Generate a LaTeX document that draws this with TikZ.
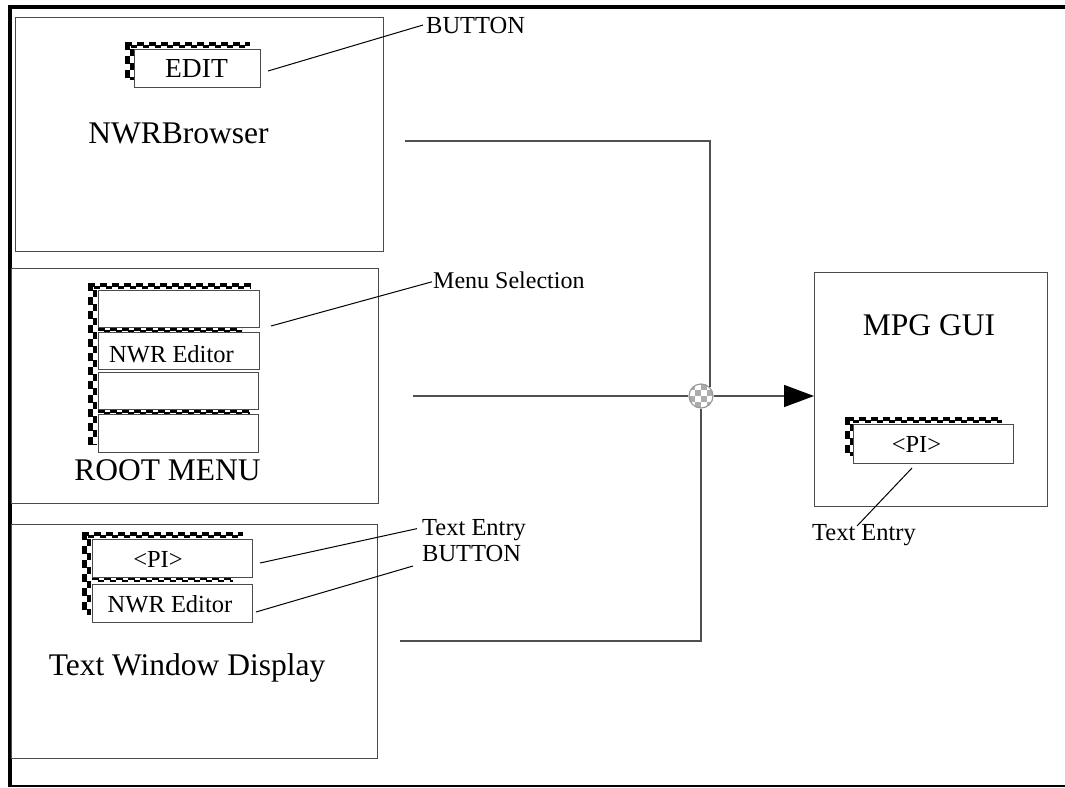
\documentclass[tikz,border=0pt]{standalone}
\usepackage{fontspec}
\setmainfont{Liberation Serif}
\usetikzlibrary{arrows.meta,calc}
\definecolor{boxc}{RGB}{75,75,75}
\definecolor{linec}{RGB}{80,80,80}
\newcommand\chkH[3]{%
  \draw[black, line width=3.5pt, dash pattern=on 7pt off 5pt] (#1,{#3+1.75}) -- (#2,{#3+1.75});
  \draw[black, line width=2.5pt, dash pattern=on 6pt off 6pt, dash phase=6pt] (#1,{#3+4.5}) -- (#2,{#3+4.5});}
\newcommand\chkV[3]{%
  \draw[black, line width=4.5pt, dash pattern=on 8pt off 6pt] ({#1+2.25},#2) -- ({#1+2.25},#3);
  \draw[black, line width=4pt, dash pattern=on 7pt off 7pt, dash phase=7pt] ({#1+6.5},#2) -- ({#1+6.5},#3);}
\begin{document}
\begin{tikzpicture}[x=1pt,y=-1pt,
  winbox/.style={draw=boxc, line width=1.4pt, rectangle, inner sep=0pt, anchor=north west},
  btnbox/.style={draw=boxc, line width=1.3pt, fill=white, rectangle, inner sep=0pt, anchor=north west},
  big/.style={font=\fontsize{31.5}{36}\selectfont, inner sep=0pt, anchor=base},
  small/.style={font=\fontsize{24.5}{28}\selectfont, inner sep=0pt, anchor=base},
  lbl/.style={font=\fontsize{24.5}{28}\selectfont, inner sep=0pt, anchor=base west},
  callout/.style={draw=black, line width=1pt},
  conn/.style={draw=linec, line width=1.4pt}]
\useasboundingbox (0,0) rectangle (1065,787);
\fill[white] (0,0) rectangle (1065,787);
% outer frame
\draw[line width=4pt, line join=miter] (10,787) -- (10,7) -- (1065,7);
\draw[line width=2pt] (10,786) -- (1065,786);
% windows
\node[winbox, minimum width=368pt, minimum height=234pt] (nwb) at (15,17) {};
\node[winbox, minimum width=367pt, minimum height=235pt] (rm) at (11,268) {};
\node[winbox, minimum width=366pt, minimum height=234pt] (tw) at (11,524) {};
\node[winbox, minimum width=233pt, minimum height=234pt] (mpg) at (814,272) {};
% checkered shadows
\chkH{125}{250}{42}
\chkV{125}{42}{80}
\chkH{88}{251}{283}
\chkH{98}{242}{327}
\chkH{98}{250}{409}
\chkV{88}{283}{445}
\chkH{82}{243}{532}
\chkH{92}{233}{576.5}
\chkV{82}{532}{615}
\chkH{847}{1002}{417}
\chkV{845}{417}{456}
% buttons
\node[btnbox, minimum width=126pt, minimum height=38pt] (edit) at (134,49) {};
\node[btnbox, minimum width=161pt, minimum height=37pt] (m1) at (98,290) {};
\node[btnbox, minimum width=161pt, minimum height=37pt] (m2) at (98,332) {};
\node[btnbox, minimum width=160pt, minimum height=37pt] (m3) at (98,372) {};
\node[btnbox, minimum width=160pt, minimum height=38pt] (m4) at (98,414) {};
\node[btnbox, minimum width=160pt, minimum height=38pt] (twpi) at (92,539) {};
\node[btnbox, minimum width=160pt, minimum height=38pt] (twne) at (92,584) {};
\node[btnbox, minimum width=160pt, minimum height=39pt] (mpgpi) at (853,424) {};
% texts
\node[big] (tnwb) at (178.5,143) {NWRBrowser};
\node[big] (trm) at (167.5,480) {ROOT MENU};
\node[big] (ttw) at (187,675) {Text Window Display};
\node[big] (tmpg) at (929,335) {MPG GUI};
\node[small, font=\fontsize{27.5}{30}\selectfont] (tedit) at (196.5,77) {EDIT};
\node[small] (tm2) at (171.5,362) {NWR Editor};
\node[small] (ttwpi) at (158,567) {<PI>};
\node[small] (ttwne) at (170,612) {NWR Editor};
\node[small] (tmpgpi) at (916.5,452) {<PI>};
% labels
\node[lbl] (lb1) at (426,33) {BUTTON};
\node[lbl, font=\fontsize{24}{28}\selectfont] (lb2) at (433,288) {Menu Selection};
\node[lbl] (lb3) at (422,535) {Text Entry};
\node[lbl] (lb4) at (422,561) {BUTTON};
\node[small] (lb5) at (864,540) {Text Entry};
% callouts
\coordinate (ce) at (268,71);
\draw[callout] (ce) -- ($(lb1.west)+(-3,0)$);
\coordinate (cm) at (271,326);
\draw[callout] (cm) -- ($(lb2.west)+(-1,2)$);
\coordinate (ct1) at (260,563);
\draw[callout] (ct1) -- ($(lb3.west)+(-5,-1)$);
\coordinate (ct2) at (256,612);
\draw[callout] (ct2) -- ($(lb4.base west)+(-9,5)$);
\coordinate (cp) at (912,468);
\draw[callout] (cp) -- ($(lb5.base)+(-7,-14)$);
% junction
\begin{scope}
  \clip (701,396) circle (12pt);
  \fill[white] (689,384) rectangle (713,408);
  \foreach \i in {0,...,3}{\foreach \k in {0,...,3}{%
    \pgfmathtruncatemacro\chs{mod(\i+\k,2)}%
    \ifnum\chs=0 \fill[gray!65] ({689+6*\i},{384+6*\k}) rectangle ++(6,6);\fi}}
\end{scope}
\node[circle, draw=gray!80, line width=1.2pt, minimum size=24pt, inner sep=0pt] (j) at (701,396) {};
% connectors
\coordinate (nbo) at (405,141);
\draw[conn] (nbo) -| (j.north east);
\coordinate (rmo) at (413,396);
\draw[conn] (rmo) -- (j.west);
\coordinate (two) at (400,641);
\draw[conn] (two) -| (j.south);
\draw[conn, -{Triangle[length=30pt,width=22pt,color=black,fill=black]}] (j.east) -- (j.east -| mpg.west);
\end{tikzpicture}
\end{document}
